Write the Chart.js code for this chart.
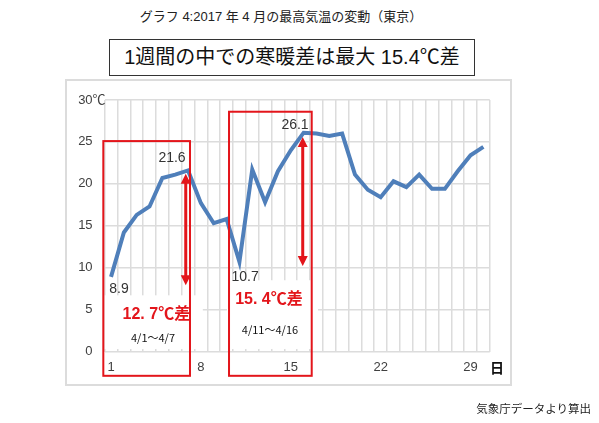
<!DOCTYPE html>
<html lang="ja">
<head>
<meta charset="utf-8">
<script src="https://cdn.jsdelivr.net/npm/chart.js@4/dist/chart.umd.min.js"></script>
<style>
  html, body { margin:0; padding:0; background:#fff; }
  body { width:599px; height:423px; position:relative; overflow:hidden;
         font-family:"Liberation Sans","Noto Sans CJK JP",sans-serif; color:#222; }
  #heading { position:absolute; left:0; width:562px; top:8px; text-align:center; font-size:13px; line-height:18px; }
  #titlebox { position:absolute; left:109px; top:39px; width:364px; height:35px; border:1.5px solid #333;
              text-align:center; font-size:20px; line-height:35px; color:#111; }
  #frame { position:absolute; left:65px; top:79px; width:443px; height:303px; border:2px solid #dcdcdc; }
  #source { position:absolute; right:8px; top:400px; font-size:11.5px; line-height:18px; color:#222; }
  #chart { position:absolute; left:0; top:0; }
</style>
</head>
<body>
<div id="heading">グラフ 4:2017 年 4 月の最高気温の変動（東京）</div>
<div id="titlebox">1週間の中での寒暖差は最大 15.4℃差</div>
<div id="frame"></div>
<canvas id="chart" width="599" height="423"></canvas>
<div id="source">気象庁データより算出</div>
<script>
// 2017年4月 東京の日最高気温
const days = ["1","2","3","4","5","6","7","8","9","10","11","12","13","14","15",
              "16","17","18","19","20","21","22","23","24","25","26","27","28","29","30"];
const maxTemp = [8.9, 14.2, 16.3, 17.3, 20.7, 21.1, 21.6, 17.7, 15.3, 15.8,
                 10.7, 21.7, 17.8, 21.5, 24.0, 26.1, 26.0, 25.7, 26.0, 21.1,
                 19.3, 18.4, 20.3, 19.6, 21.1, 19.4, 19.4, 21.5, 23.4, 24.4];
const shownDays = ["1","8","15","22","29"];
const yTicks = [0, 5, 10, 15, 20, 25, 30];

// annotations, in data units (x = day index, y = ℃)
const masks = [
  {x0:-0.5, x1:7.15, y0:0.3, y1:6.7},
  {x0:9.03, x1:16.12, y0:0.3, y1:8.5}
];
const boxes = [
  {x0:-0.6, x1:6.15, y0:-2.9, y1:25.1},
  {x0:9.19, x1:15.63, y0:-2.9, y1:28.6}
];
const arrows = [
  {x:5.82, lo:7.9, hi:21.2},
  {x:14.93, lo:10.2, hi:25.6}
];
const notes = [
  {t:"21.6", x:4.75, y:23.1, font:"14px 'Liberation Sans'", c:"#333"},
  {t:"26.1", x:14.33, y:27.0, font:"14px 'Liberation Sans'", c:"#333"},
  {t:"8.9", x:0.62, y:7.4, font:"14px 'Liberation Sans'", c:"#333"},
  {t:"10.7", x:10.44, y:8.85, font:"14px 'Liberation Sans'", c:"#333"},
  {t:"12. 7℃差", x:3.53, y:4.36, font:"bold 16px 'Liberation Sans','Noto Sans CJK JP'", c:"#e3151b"},
  {t:"15. 4℃差", x:12.3, y:6.15, font:"bold 16px 'Liberation Sans','Noto Sans CJK JP'", c:"#e3151b"},
  {t:"4/1〜4/7", x:3.27, y:1.67, font:"11px 'Noto Sans CJK JP'", c:"#111"},
  {t:"4/11〜4/16", x:12.38, y:2.57, font:"11px 'Noto Sans CJK JP'", c:"#111"}
];

const red = "#e3151b";
const gridColor = "#dcdcdc";

const annot = {
  id: "annot",
  beforeDatasetsDraw(chart){
    const {ctx, scales:{x, y}} = chart;
    ctx.save();
    ctx.fillStyle = "#fff";
    masks.forEach(m=>{
      const l = x.getPixelForValue(m.x0), r = x.getPixelForValue(m.x1);
      const t = y.getPixelForValue(m.y1), b = y.getPixelForValue(m.y0);
      ctx.fillRect(l, t, r-l, b-t);
    });
    ctx.restore();
  },
  afterDatasetsDraw(chart){
    const {ctx, scales:{x, y}} = chart;
    ctx.save();
    // red frames
    ctx.strokeStyle = red; ctx.lineWidth = 2;
    boxes.forEach(bx=>{
      const l = x.getPixelForValue(bx.x0), r = x.getPixelForValue(bx.x1);
      const t = y.getPixelForValue(bx.y1), b = y.getPixelForValue(bx.y0);
      ctx.strokeRect(l, t, r-l, b-t);
    });
    // double arrows
    ctx.fillStyle = red; ctx.lineWidth = 3;
    arrows.forEach(a=>{
      const px = x.getPixelForValue(a.x);
      const top = y.getPixelForValue(a.hi), bot = y.getPixelForValue(a.lo);
      const hh = 10, hw = 5;
      ctx.beginPath(); ctx.moveTo(px, top+hh-1); ctx.lineTo(px, bot-hh+1); ctx.stroke();
      ctx.beginPath(); ctx.moveTo(px, top); ctx.lineTo(px-hw, top+hh); ctx.lineTo(px+hw, top+hh); ctx.closePath(); ctx.fill();
      ctx.beginPath(); ctx.moveTo(px, bot); ctx.lineTo(px-hw, bot-hh); ctx.lineTo(px+hw, bot-hh); ctx.closePath(); ctx.fill();
    });
    // text notes
    ctx.textAlign = "center"; ctx.textBaseline = "middle";
    notes.forEach(n=>{
      ctx.font = n.font; ctx.fillStyle = n.c;
      ctx.fillText(n.t, x.getPixelForValue(n.x), y.getPixelForValue(n.y));
    });
    // unit labels
    ctx.fillStyle = "#404040"; ctx.font = "13px 'Liberation Sans','Noto Sans CJK JP'";
    ctx.textAlign = "left";
    ctx.fillText("℃", x.left - 12, y.getPixelForValue(30));
    ctx.fillStyle = "#111"; ctx.font = "bold 14px 'Noto Sans CJK JP'";
    ctx.textAlign = "center";
    ctx.fillText("日", x.getPixelForValue(30.06), x.top + 16);
    ctx.restore();
  }
};

new Chart(document.getElementById("chart"), {
  type: "line",
  data: {
    labels: days,
    datasets: [{
      label: "最高気温",
      data: maxTemp,
      borderColor: "#4f7fba",
      borderWidth: 4,
      pointRadius: 0,
      tension: 0,
      fill: false
    }]
  },
  options: {
    responsive: false,
    animation: false,
    devicePixelRatio: 1,
    layout: { padding: { left: 70, right: 109.2, top: 100, bottom: 41.5 } },
    plugins: { legend: { display: false }, tooltip: { enabled: false } },
    scales: {
      x: {
        type: "category",
        offset: true,
        grid: { offset: true, color: gridColor, lineWidth: 1.5, drawTicks: false },
        border: { display: false },
        afterFit(s){ s.height = 30; },
        ticks: {
          autoSkip: false, maxRotation: 0, padding: 8,
          color: "#404040", font: { family: "'Liberation Sans'", size: 13 },
          callback(v){ const lab = this.getLabelForValue(v); return shownDays.includes(lab) ? lab : ""; }
        }
      },
      y: {
        min: 0, max: 30,
        afterFit(s){ s.width = 34.6; },
        afterBuildTicks(s){ s.ticks = yTicks.map(v=>({value:v})); },
        grid: { color: gridColor, lineWidth: 1.5, drawTicks: false },
        border: { display: false },
        ticks: { padding: 12, color: "#404040", font: { family: "'Liberation Sans'", size: 13 } }
      }
    }
  },
  plugins: [annot]
});
</script>
</body>
</html>
